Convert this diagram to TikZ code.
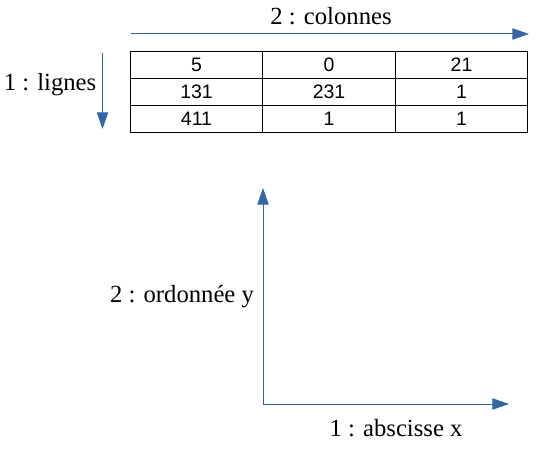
\documentclass[tikz,border=0pt]{standalone}
\usepackage{fontspec}
\setmainfont{Liberation Serif}
\newfontfamily\cellfont{Liberation Sans}
\usetikzlibrary{
arrows.meta
}
\definecolor{axisblue}{HTML}{3465A4}

\begin{document}
\begin{tikzpicture}[
      x=0.75pt, y=-0.75pt,
      axis/.style={
        axisblue,
        line width=0.75pt,
        -{Triangle[length=12.5pt, width=8.5pt]},
      },
      label/.style={
        font=\fontsize{18.5}{22}\selectfont,
        inner sep=0pt,
      },
      cell/.style={
        draw=black,
        line width=0.75pt,
        minimum width=99.5pt,
        minimum height=20.5pt,
        inner sep=0pt,
        font=\cellfont\fontsize{14.6}{17}\selectfont,
      },
      ]
      \useasboundingbox (0,0) rectangle (550,452);
      % table
      \foreach \row/\y/\a/\b/\c in {1/65/5/0/21, 2/92/131/231/1, 3/119/411/1/1} {
        \node [cell] (cell-\row-1) at (196.5,\y) {\a};
        \node [cell] (cell-\row-2) at (329,\y) {\b};
        \node [cell] (cell-\row-3) at (461.5,\y) {\c};
      }
      % table directions
      \coordinate (col-start) at (131,34);
      \coordinate (col-end) at (529,34);
      \coordinate (row-start) at (102.5,53);
      \coordinate (row-end) at (102.5,129);
      \draw [axis] (col-start) -- (col-end);
      \draw [axis] (row-start) -- (row-end);
      \node [label] (label-col) at (331,16) {2 : colonnes};
      \node [label] (label-row) at (50,85) {1 : lignes};
      % axes
      \coordinate (origin) at (263,404);
      \coordinate (y-end) at (263,188);
      \coordinate (x-end) at (509,404);
      \draw [axis] (origin) -- (y-end);
      \draw [axis] (origin) -- (x-end);
      \node [label] (label-y) at (182,297) {2 : ordonnée y};
      \node [label] (label-x) at (396,428) {1 : abscisse x};
    \end{tikzpicture}
\end{document}
